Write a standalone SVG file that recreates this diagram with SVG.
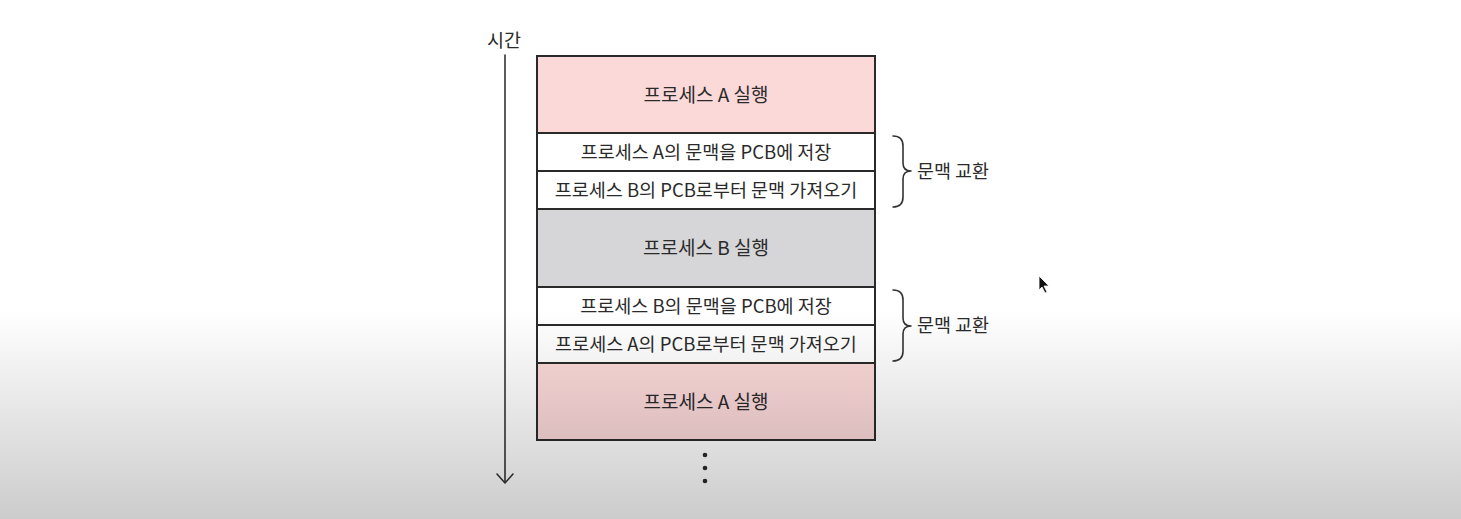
<svg xmlns="http://www.w3.org/2000/svg" width="1461" height="519" viewBox="0 0 1461 519">
<defs>
<linearGradient id="shade" x1="0" y1="0" x2="0" y2="1">
<stop offset="0" stop-color="#000" stop-opacity="0"/>
<stop offset="1" stop-color="#000" stop-opacity="0.2"/>
</linearGradient>
</defs>
<style>
.t{font-family:"Noto Sans CJK KR","Noto Sans",sans-serif;font-size:18.5px;fill:#2a2a2a;text-anchor:middle;dominant-baseline:central}
.big{font-size:19px}
.row{stroke:#2a2a2a;stroke-width:2}
.line{fill:none;stroke:#333;stroke-width:1.6;stroke-linecap:round;stroke-linejoin:round}
</style>
<rect width="1461" height="519" fill="#ffffff"/>
<g id="timeline">
<line class="line" x1="505" y1="55" x2="505" y2="482"/>
<path class="line" d="M497,474 L505,483 L513,474"/>
<text class="t" x="504" y="39">시간</text>
</g>
<g id="n1"><rect class="row" x="537" y="56" width="338" height="77" fill="#fcd9d9"/><text class="t big" x="706" y="93">프로세스 A 실행</text></g>
<g id="n2"><rect class="row" x="537" y="133" width="338" height="38" fill="#ffffff"/><text class="t" x="706" y="151">프로세스 A의 문맥을 PCB에 저장</text></g>
<g id="n3"><rect class="row" x="537" y="171" width="338" height="38" fill="#ffffff"/><text class="t" x="706" y="189">프로세스 B의 PCB로부터 문맥 가져오기</text></g>
<g id="n4"><rect class="row" x="537" y="209" width="338" height="78" fill="#d6d6d8"/><text class="t big" x="706" y="246">프로세스 B 실행</text></g>
<g id="n5"><rect class="row" x="537" y="287" width="338" height="38" fill="#ffffff"/><text class="t" x="706" y="305">프로세스 B의 문맥을 PCB에 저장</text></g>
<g id="n6"><rect class="row" x="537" y="325" width="338" height="38" fill="#ffffff"/><text class="t" x="706" y="343">프로세스 A의 PCB로부터 문맥 가져오기</text></g>
<g id="n7"><rect class="row" x="537" y="363" width="338" height="77" fill="#fcd9d9"/><text class="t big" x="706" y="400">프로세스 A 실행</text></g>
<g id="brace1">
<path class="line" d="M893,136 Q903,136 903,146 L903,163 Q903,171 911,171 Q903,171 903,179 L903,197 Q903,207 893,207"/>
<text class="t" x="953" y="170">문맥 교환</text>
</g>
<g id="brace2">
<path class="line" d="M893,290 Q903,290 903,300 L903,318 Q903,326 911,326 Q903,326 903,334 L903,351 Q903,361 893,361"/>
<text class="t" x="953" y="324">문맥 교환</text>
</g>
<g id="dots" fill="#2a2a2a">
<circle cx="705" cy="455" r="2.3"/><circle cx="705" cy="468" r="2.3"/><circle cx="705" cy="481" r="2.3"/>
</g>
<rect x="0" y="310" width="1461" height="209" fill="url(#shade)"/>
<g id="cursor"><path d="M1039,276 L1039,290 L1042,287 L1045,293 L1047,292 L1044,286 L1049,286 Z" fill="#111" stroke="#fff" stroke-width="0.8"/></g>
</svg>
